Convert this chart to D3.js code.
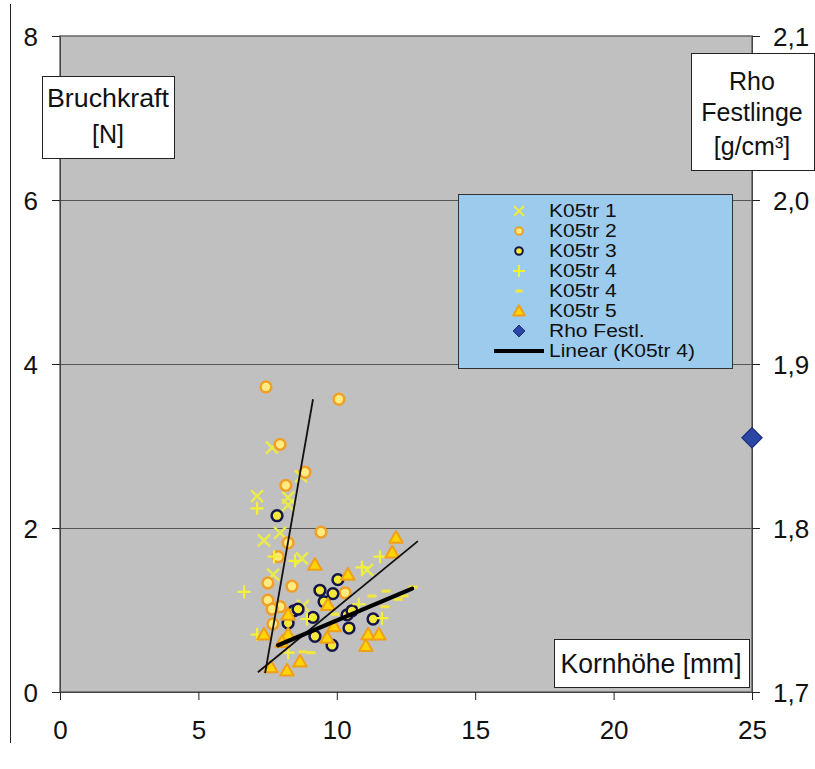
<!DOCTYPE html>
<html><head><meta charset="utf-8">
<script src="https://cdn.jsdelivr.net/npm/d3@7"></script>
<style>
body{margin:0;background:#fff;}
svg{display:block;font-family:"Liberation Sans",Arial,sans-serif;}
</style></head>
<body><svg id="chart" width="815" height="769"></svg>
<script>
// ---- data (x = Kornhöhe [mm], y = Bruchkraft [N]) ----
const tr1X = [7.66, 8.71, 7.12, 8.24, 8.24, 7.37, 7.95, 8.74, 7.70, 8.78, 11.09];
const tr1Y = [2.98, 2.63, 2.39, 2.37, 2.28, 1.85, 1.94, 1.63, 1.43, 1.05, 1.49];
const tr2X = [7.44, 10.08, 7.95, 8.85, 8.16, 9.43, 8.24, 7.88, 7.51, 8.38, 7.51, 7.95, 7.66, 7.69, 10.30];
const tr2Y = [3.72, 3.57, 3.02, 2.68, 2.52, 1.95, 1.82, 1.65, 1.33, 1.29, 1.12, 1.04, 1.01, 0.83, 1.21];
const tr3X = [7.84, 10.04, 9.39, 9.86, 9.54, 8.45, 8.60, 8.24, 9.14, 10.37, 10.55, 11.31, 10.44, 9.21, 9.83];
const tr3Y = [2.15, 1.37, 1.24, 1.20, 1.10, 0.99, 1.01, 0.84, 0.91, 0.94, 0.99, 0.89, 0.78, 0.68, 0.57];
const tr4X = [7.12, 6.65, 7.73, 8.49, 7.12, 8.24, 8.92, 10.91, 11.56, 10.80, 11.63];
const tr4Y = [2.24, 1.22, 1.65, 1.60, 0.70, 0.48, 0.89, 1.52, 1.65, 1.07, 0.90];
const tr4bX = [11.27, 11.78, 11.74, 12.21, 12.43, 12.75, 8.78, 9.07, 9.93];
const tr4bY = [1.17, 1.23, 1.04, 1.13, 1.17, 1.28, 0.49, 0.48, 0.95];
const tr5X = [12.14, 12.00, 9.21, 10.40, 9.68, 8.24, 9.90, 7.37, 8.24, 9.65, 11.13, 11.52, 11.05, 8.02, 8.67, 7.62, 8.20];
const tr5Y = [1.88, 1.70, 1.55, 1.43, 1.06, 0.94, 0.80, 0.70, 0.70, 0.66, 0.70, 0.70, 0.56, 0.61, 0.37, 0.30, 0.26];
const rhoX = [25];
const rhoY = [1.855];            // right axis, g/cm³
// trend lines: [x0, x1], [y0, y1]
const trendAX = [7.41, 9.14];  const trendAY = [0.23, 3.57];
const trendBX = [7.15, 12.93]; const trendBY = [0.24, 1.84];
const linK4X = [7.88, 12.72];  const linK4Y = [0.57, 1.26];
// ticks
const xTicks = [0, 5, 10, 15, 20, 25];
const yLeftTicks = [0, 2, 4, 6, 8];
const yRightTicks = [1.7, 1.8, 1.9, 2.0, 2.1];
const legendLabels = ["K05tr 1","K05tr 2","K05tr 3","K05tr 4","K05tr 4","K05tr 5","Rho Festl.","Linear (K05tr 4)"];

const zip = (xs, ys) => xs.map((v,i)=>[v, ys[i]]);

const svg = d3.select("#chart");
const L = 60, R = 752, T = 36, B = 692;
const x = d3.scaleLinear().domain([0,25]).range([L,R]);
const yL = d3.scaleLinear().domain([0,8]).range([B,T]);
const yR = d3.scaleLinear().domain([1.7,2.1]).range([B,T]);

// outer left frame line
svg.append("line").attr("x1",10.5).attr("x2",10.5).attr("y1",4).attr("y2",743)
  .attr("stroke","#222").attr("stroke-width",1);

// plot background
svg.append("rect").attr("x",L).attr("y",T).attr("width",R-L).attr("height",B-T)
  .attr("fill","#c0c0c0");

// gridlines
svg.append("g").selectAll("line").data(yLeftTicks.filter(d=>d>0 && d<8)).join("line")
  .attr("x1",L).attr("x2",R).attr("y1",d=>Math.round(yL(d))+0.5).attr("y2",d=>Math.round(yL(d))+0.5)
  .attr("stroke","#555").attr("stroke-width",1);

// plot border
svg.append("rect").attr("x",L).attr("y",T).attr("width",R-L).attr("height",B-T)
  .attr("fill","none").attr("stroke","#666").attr("stroke-width",1.5);

// axes
const fmtR = d => d3.format(".1f")(d).replace(".",",");
const axL = svg.append("g").attr("transform",`translate(${L},0)`)
  .call(d3.axisLeft(yL).tickValues(yLeftTicks).tickSize(8).tickPadding(14).tickFormat(d3.format("d")));
const axR = svg.append("g").attr("transform",`translate(${R},0)`)
  .call(d3.axisRight(yR).tickValues(yRightTicks).tickSize(8).tickPadding(13).tickFormat(fmtR));
const axB = svg.append("g").attr("transform",`translate(0,${B})`)
  .call(d3.axisBottom(x).tickValues(xTicks).tickSize(8).tickPadding(21).tickFormat(d3.format("d")));
[axL,axR,axB].forEach(a=>{
  a.select(".domain").attr("stroke","#444");
  a.selectAll(".tick line").attr("stroke","#222");
  a.selectAll("text").attr("font-size",26).attr("fill","#111")
    .attr("font-family","'Liberation Sans',Arial,sans-serif");
});
axL.selectAll("text").attr("dy","0.36em");
axR.selectAll("text").attr("dy","0.36em");

// ---- markers ----
const g = svg.append("g");
const C_X = "#e9ea4c", C_PLUS = "#f4f03a", C_DASH = "#f3e63c";

function drawX(sel, data, s){
  sel.selectAll(null).data(data).join("path")
    .attr("d", d => { const cx=x(d[0]), cy=yL(d[1]);
      return `M${cx-s},${cy-s}L${cx+s},${cy+s}M${cx-s},${cy+s}L${cx+s},${cy-s}`; })
    .attr("stroke",C_X).attr("stroke-width",2.5).attr("fill","none");
}
function drawCircles(sel, data, fill, stroke, r){
  sel.selectAll(null).data(data).join("circle")
    .attr("cx",d=>x(d[0])).attr("cy",d=>yL(d[1])).attr("r",r)
    .attr("fill",fill).attr("stroke",stroke).attr("stroke-width",2.5);
}
function drawPlus(sel, data, s){
  sel.selectAll(null).data(data).join("path")
    .attr("d", d => { const cx=x(d[0]), cy=yL(d[1]);
      return `M${cx-s},${cy}L${cx+s},${cy}M${cx},${cy-s}L${cx},${cy+s}`; })
    .attr("stroke",C_PLUS).attr("stroke-width",2.2).attr("fill","none");
}
function drawDash(sel, data, s){
  sel.selectAll(null).data(data).join("path")
    .attr("d", d => { const cx=x(d[0]), cy=yL(d[1]); return `M${cx-s},${cy}L${cx+s},${cy}`; })
    .attr("stroke",C_DASH).attr("stroke-width",3).attr("fill","none");
}
const triPath = d3.symbol().type(d3.symbolTriangle).size(80);
function drawTri(sel, data){
  sel.selectAll(null).data(data).join("path")
    .attr("d",triPath).attr("transform",d=>`translate(${x(d[0])},${yL(d[1])+1})`)
    .attr("fill","#ffd400").attr("stroke","#f0a018").attr("stroke-width",2).attr("stroke-linejoin","round");
}

drawX(g.append("g"), zip(tr1X,tr1Y), 6);
drawCircles(g.append("g"), zip(tr2X,tr2Y), "#ffec80", "#f0a028", 5.4);
drawCircles(g.append("g"), zip(tr3X,tr3Y), "#f4e83a", "#14164a", 5.4);
drawPlus(g.append("g"), zip(tr4X,tr4Y), 6.5);
drawDash(g.append("g"), zip(tr4bX,tr4bY), 4.5);
drawTri(g.append("g"), zip(tr5X,tr5Y));

// Rho Festl. (right axis)
g.append("g").selectAll("path").data(zip(rhoX,rhoY)).join("path")
  .attr("d", d3.symbol().type(d3.symbolDiamond2).size(260))
  .attr("transform", d=>`translate(${x(d[0])},${yR(d[1])})`)
  .attr("fill","#2c46a6").attr("stroke","#1b2b78").attr("stroke-width",1.2);

// trend lines
const line = d3.line().x(d=>x(d[0])).y(d=>yL(d[1]));
g.append("path").datum(zip(trendAX,trendAY)).attr("d",line).attr("stroke","#111").attr("stroke-width",1.8).attr("fill","none");
g.append("path").datum(zip(trendBX,trendBY)).attr("d",line).attr("stroke","#111").attr("stroke-width",1.8).attr("fill","none");
g.append("path").datum(zip(linK4X,linK4Y)).attr("d",line).attr("stroke","#000").attr("stroke-width",4.2).attr("fill","none").attr("stroke-linecap","round");

// ---- label boxes ----
function box(x0,y0,w,h){
  svg.append("rect").attr("x",x0+0.5).attr("y",y0+0.5).attr("width",w).attr("height",h)
    .attr("fill","#fff").attr("stroke","#222").attr("stroke-width",1);
}
function txt(tx,ty,s,size,anchor){
  return svg.append("text").attr("x",tx).attr("y",ty).attr("font-size",size)
    .attr("text-anchor",anchor||"middle").attr("fill","#111").text(s);
}
box(42,76,132,82);
txt(108,107,"Bruchkraft",25).attr("textLength",122).attr("lengthAdjust","spacingAndGlyphs");
txt(108,143,"[N]",25);

box(691,53,123,117);
txt(752,90,"Rho",25);
txt(752,121,"Festlinge",25);
txt(752,155,"[g/cm³]",25);

box(554,639,195,48);
txt(651,673,"Kornhöhe [mm]",27).attr("textLength",181).attr("lengthAdjust","spacingAndGlyphs");

// ---- legend ----
const lg = svg.append("g");
lg.append("rect").attr("x",458.5).attr("y",194.5).attr("width",274).attr("height",174)
  .attr("fill","#9ccbee").attr("stroke","#333").attr("stroke-width",1);
const lgY = i => 217 + i*20;
legendLabels.forEach((lab,i)=>{
  const t = lg.append("text").attr("x",549).attr("y",lgY(i)).attr("font-size",21).attr("fill","#111").text(lab);
  const w = t.node().getComputedTextLength();
  t.attr("font-size",17.5).attr("textLength",w).attr("lengthAdjust","spacingAndGlyphs");
});
const sx = 519;
const sy = i => lgY(i) - 6;
lg.append("path").attr("d",`M${sx-5},${sy(0)-5}L${sx+5},${sy(0)+5}M${sx-5},${sy(0)+5}L${sx+5},${sy(0)-5}`)
  .attr("stroke",C_X).attr("stroke-width",2.2);
lg.append("circle").attr("cx",sx).attr("cy",sy(1)).attr("r",3.8).attr("fill","#ffec80").attr("stroke","#f0a028").attr("stroke-width",2);
lg.append("circle").attr("cx",sx).attr("cy",sy(2)).attr("r",3.8).attr("fill","#f4e83a").attr("stroke","#14164a").attr("stroke-width",2);
lg.append("path").attr("d",`M${sx-6},${sy(3)}L${sx+6},${sy(3)}M${sx},${sy(3)-6}L${sx},${sy(3)+6}`)
  .attr("stroke",C_PLUS).attr("stroke-width",2);
lg.append("path").attr("d",`M${sx-3.5},${sy(4)}L${sx+3.5},${sy(4)}`).attr("stroke",C_DASH).attr("stroke-width",3);
lg.append("path").attr("d",d3.symbol().type(d3.symbolTriangle).size(60)).attr("transform",`translate(${sx},${sy(5)+1})`)
  .attr("fill","#ffd400").attr("stroke","#f0a018").attr("stroke-width",2).attr("stroke-linejoin","round");
lg.append("path").attr("d",d3.symbol().type(d3.symbolDiamond2).size(90)).attr("transform",`translate(${sx},${sy(6)})`)
  .attr("fill","#2c46a6").attr("stroke","#1b2b78").attr("stroke-width",1);
lg.append("line").attr("x1",494).attr("x2",544).attr("y1",sy(7)).attr("y2",sy(7)).attr("stroke","#000").attr("stroke-width",4);
</script>
</body></html>
